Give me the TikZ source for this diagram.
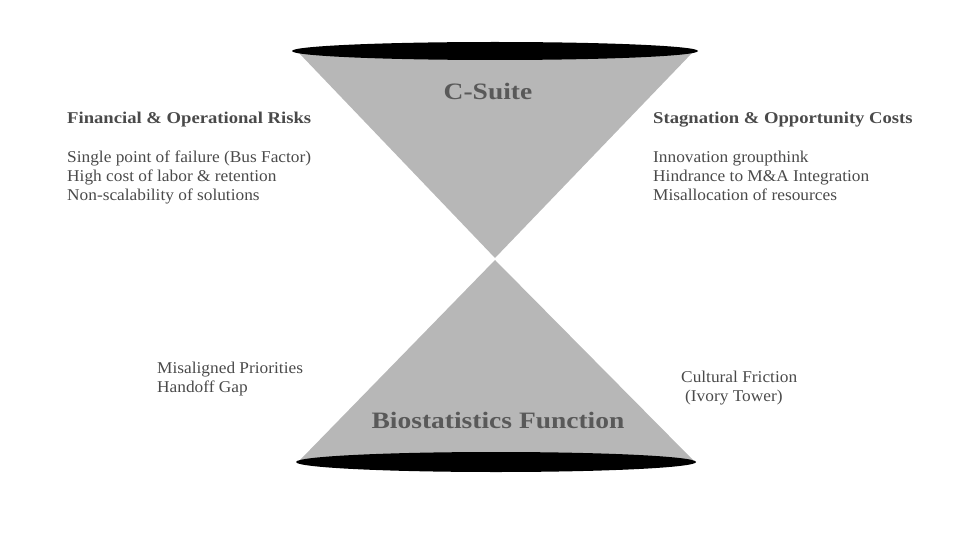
\documentclass[tikz,border=0pt]{standalone}
\usepackage{fontspec}
\setmainfont{Liberation Serif}
\newfontfamily\titlefont[FakeStretch=1.17]{Liberation Serif Bold}
\newfontfamily\headfont[FakeStretch=1.13]{Liberation Serif Bold}
\newfontfamily\bodyfont[FakeStretch=1.05]{Liberation Serif}
\definecolor{funnel}{HTML}{B7B7B7}
\definecolor{labelgray}{HTML}{595959}
\definecolor{textgray}{HTML}{4A4A4A}
\begin{document}
\begin{tikzpicture}[x=1pt,y=-1pt,
  cone/.style={fill=funnel,draw=none},
  rim/.style={fill=black,draw=none},
  title/.style={font=\titlefont\fontsize{23.5}{26}\selectfont,text=labelgray,inner sep=0},
  head/.style={font=\headfont\fontsize{16.5}{19}\selectfont,text=textgray,anchor=west,inner sep=0},
  body/.style={font=\bodyfont\fontsize{16.5}{19}\selectfont,text=textgray,anchor=north west,align=left,inner sep=0}]
\useasboundingbox (0,0) rectangle (960,540);
% upper cone
\fill[cone] (298,52) -- (693,52) -- (495,258) -- cycle;
% lower cone
\fill[cone] (495,260) -- (693,460) -- (300,460) -- cycle;
% rims
\fill[rim] (495,51) ellipse [x radius=203, y radius=9];
\fill[rim] (496,462) ellipse [x radius=200, y radius=10];
% titles
\node[title] (csuite) at (488,91) {C-Suite};
\node[title] (bio) at (498,420) {Biostatistics Function};
% left block
\node[head] (finhead) at (67,120) {Financial \& Operational Risks};
\node[body] (finbody) at (67,151) {Single point of failure (Bus Factor)\\High cost of labor \& retention\\Non-scalability of solutions};
% right block
\node[head] (stghead) at (653,120) {Stagnation \& Opportunity Costs};
\node[body] (stgbody) at (653,151) {Innovation groupthink\\Hindrance to M\&A Integration\\Misallocation of resources};
% lower labels
\node[body] (mis) at (157,362) {Misaligned Priorities\\Handoff Gap};
\node[body] (cult) at (681,371) {Cultural Friction\\\hspace{4pt}(Ivory Tower)};
\end{tikzpicture}
\end{document}
